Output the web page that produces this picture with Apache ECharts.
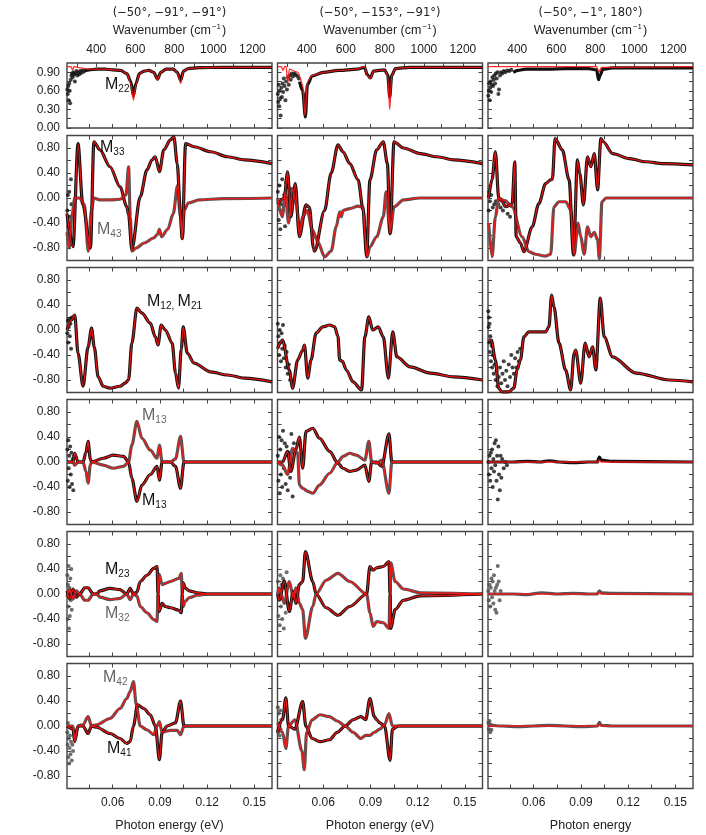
<!DOCTYPE html>
<html>
<head>
<meta charset="utf-8">
<script src="https://cdn.jsdelivr.net/npm/echarts@6/dist/echarts.min.js"></script>
<style>
html, body { margin: 0; padding: 0; background: #fff; }
#main { width: 706px; height: 835px; }
</style>
</head>
<body>
<div id="main"></div>
<script>
// x in photon energy (eV); top axis shows wavenumber (cm-1)
const X_MIN = 0.031
const X_MAX = 0.1612
const CM_PER_EV = 8065.54

const titles = ['(\u221250\u00b0, \u221291\u00b0, \u221291\u00b0)', '(\u221250\u00b0, \u2212153\u00b0, \u221291\u00b0)', '(\u221250\u00b0, \u22121\u00b0, 180\u00b0)']
const bottomNames = ['Photon energy (eV)', 'Photon energy (eV)', 'Photon energy']
const eVTicks = [0.045, 0.06, 0.075, 0.09, 0.105, 0.12, 0.135, 0.15]
const eVLabels = [0.06, 0.09, 0.12, 0.15]
const cmTicks = [300, 400, 500, 600, 700, 800, 900, 1000, 1100, 1200]
const cmLabels = [400, 600, 800, 1000, 1200]
const m22Ticks = [0, 0.15, 0.3, 0.45, 0.6, 0.75, 0.9]
const m22Labels = [0, 0.3, 0.6, 0.9]
const mTicks = [-0.8, -0.6, -0.4, -0.2, 0, 0.2, 0.4, 0.6, 0.8]
const mLabels = [-0.8, -0.4, 0, 0.4, 0.8]

// ---- row 1 : M22 ----
const r1c1Noise = [[0.0312,0.62],[0.0315,0.55],[0.0318,0.68],[0.0321,0.45],[0.0324,0.72],[0.0327,0.6],[0.0330,0.4],[0.0334,0.78],[0.0338,0.85],[0.0342,0.88],[0.0346,0.82],[0.0350,0.9],[0.0355,0.86],[0.0360,0.75],[0.0365,0.88],[0.0370,0.92],[0.0376,0.85],[0.0382,0.9],[0.0388,0.87],[0.0394,0.92],[0.0400,0.89],[0.0408,0.93],[0.0416,0.91]]
const r1c1Data = [[0.0420,0.92],[0.045,0.94],[0.05,0.95],[0.055,0.95],[0.060,0.94],[0.065,0.93],[0.069,0.88],[0.0715,0.75],[0.0732,0.52],[0.0748,0.72],[0.0770,0.88],[0.080,0.92],[0.083,0.93],[0.0860,0.9],[0.0885,0.79],[0.0905,0.9],[0.0940,0.95],[0.0985,0.95],[0.1010,0.9],[0.1032,0.77],[0.1050,0.92],[0.108,0.96],[0.115,0.975],[0.13,0.98],[0.1612,0.98]]
const r1c1Fit = [[0.031,0.99],[0.0335,0.99],[0.0345,0.94],[0.0355,0.99],[0.040,0.97],[0.045,0.95],[0.05,0.95],[0.055,0.95],[0.060,0.94],[0.065,0.93],[0.069,0.88],[0.0715,0.72],[0.0732,0.45],[0.0748,0.7],[0.0770,0.87],[0.080,0.92],[0.083,0.93],[0.0860,0.9],[0.0885,0.78],[0.0905,0.9],[0.0940,0.95],[0.0985,0.95],[0.1010,0.9],[0.1032,0.72],[0.1050,0.92],[0.108,0.96],[0.115,0.975],[0.13,0.98],[0.1612,0.98]]
const r1c2Noise = [[0.0312,0.55],[0.0315,0.42],[0.0318,0.7],[0.0321,0.35],[0.0324,0.6],[0.0327,0.48],[0.0330,0.2],[0.0334,0.65],[0.0338,0.5],[0.0342,0.72],[0.0346,0.58],[0.0350,0.8],[0.0355,0.68],[0.0360,0.45],[0.0365,0.75],[0.0370,0.62],[0.0376,0.82],[0.0382,0.7],[0.0388,0.85],[0.0394,0.78],[0.0400,0.88],[0.0408,0.83],[0.0416,0.88],[0.0425,0.86],[0.0435,0.84],[0.0445,0.8]]
const r1c2Data = [[0.045,0.75],[0.0470,0.6],[0.0487,0.18],[0.0500,0.7],[0.0530,0.84],[0.060,0.9],[0.070,0.93],[0.0815,0.95],[0.0863,0.98],[0.0880,0.86],[0.0900,0.81],[0.0920,0.92],[0.0990,0.94],[0.1010,0.86],[0.1023,0.5],[0.1035,0.85],[0.106,0.96],[0.115,0.98],[0.1612,0.98]]
const r1c2Fit = [[0.031,0.99],[0.0335,0.99],[0.0345,0.93],[0.0355,0.99],[0.0365,0.99],[0.0375,0.72],[0.0385,0.95],[0.0440,0.9],[0.0470,0.7],[0.0485,0.2],[0.0500,0.75],[0.0530,0.85],[0.060,0.9],[0.070,0.93],[0.0815,0.95],[0.0863,0.99],[0.0880,0.85],[0.0900,0.80],[0.0920,0.92],[0.0990,0.94],[0.1010,0.85],[0.1023,0.3],[0.1035,0.85],[0.106,0.96],[0.115,0.98],[0.1612,0.98]]
const r1c3Noise = [[0.0312,0.52],[0.0315,0.6],[0.0318,0.72],[0.0321,0.45],[0.0324,0.65],[0.0327,0.75],[0.0330,0.58],[0.0334,0.7],[0.0338,0.82],[0.0342,0.68],[0.0346,0.78],[0.0350,0.85],[0.0355,0.72],[0.0360,0.88],[0.0365,0.8],[0.0370,0.9],[0.0376,0.55],[0.0380,0.62],[0.0386,0.85],[0.0392,0.9],[0.0400,0.88],[0.0410,0.92],[0.0420,0.9],[0.0432,0.93],[0.0445,0.92],[0.0458,0.94]]
const r1c3Data = [[0.047,0.9],[0.050,0.93],[0.055,0.95],[0.060,0.95],[0.070,0.95],[0.080,0.96],[0.095,0.96],[0.100,0.94],[0.1012,0.78],[0.1022,0.85],[0.104,0.95],[0.11,0.97],[0.1612,0.97]]
const r1c3Fit = [[0.031,0.99],[0.100,0.99],[0.1015,0.9],[0.103,0.98],[0.1612,0.99]]

// ---- row 2 : M33 (black) / M43 (gray) ----
const r2c1Black = [[0.0310,-0.25],[0.0348,-0.78],[0.0380,0.87],[0.0410,-0.1],[0.0459,-0.8],[0.0481,0.9],[0.0519,0.77],[0.0583,0.5],[0.0647,0.18],[0.0690,-0.14],[0.0701,-0.27],[0.0722,-0.82],[0.0775,0.02],[0.0818,0.45],[0.0850,0.61],[0.0871,0.66],[0.0897,0.42],[0.0925,0.77],[0.0967,0.93],[0.0989,0.98],[0.1010,0.55],[0.1030,-0.2],[0.1042,-0.65],[0.1063,0.87],[0.1117,0.82],[0.1223,0.74],[0.1330,0.66],[0.1437,0.61],[0.1612,0.55]]
const r2c1Gray = [[0.0310,-0.55],[0.0325,-0.8],[0.0340,-0.3],[0.0360,0.0],[0.0390,0.0],[0.0420,-0.1],[0.0445,-0.85],[0.0465,-0.2],[0.0480,0.0],[0.0519,-0.03],[0.0583,-0.03],[0.0647,-0.02],[0.0685,0.05],[0.0701,0.5],[0.0712,-0.3],[0.0722,-0.85],[0.0750,-0.8],[0.0800,-0.72],[0.0860,-0.64],[0.0885,-0.58],[0.0897,-0.5],[0.0910,-0.62],[0.0950,-0.5],[0.0985,-0.25],[0.1012,0.2],[0.1030,-0.3],[0.1042,-0.65],[0.1055,-0.2],[0.1080,-0.08],[0.1150,-0.03],[0.1300,-0.01],[0.1612,0.0]]
const r2c1Noise = [[0.0312,-0.2],[0.0316,0.05],[0.0320,-0.45],[0.0324,0.1],[0.0330,-0.3],[0.0335,0.3],[0.0338,-0.1]]
const r2c2Black = [[0.0310,-0.1],[0.0353,0.0],[0.0374,0.42],[0.0395,-0.3],[0.0423,0.23],[0.0449,-0.62],[0.0491,-0.11],[0.0513,-0.15],[0.0538,-0.8],[0.0545,-0.85],[0.0609,-0.2],[0.0651,0.4],[0.0694,0.85],[0.0726,0.74],[0.0769,0.55],[0.0822,0.29],[0.0854,-0.19],[0.0876,-0.94],[0.0897,0.29],[0.0940,0.77],[0.0982,0.9],[0.1008,0.55],[0.1025,-0.57],[0.1050,0.9],[0.1110,0.8],[0.1217,0.71],[0.1324,0.66],[0.1430,0.61],[0.1612,0.55]]
const r2c2Gray = [[0.0310,0.0],[0.0340,-0.3],[0.0360,0.1],[0.0380,-0.4],[0.0405,0.15],[0.0430,-0.1],[0.0449,-0.55],[0.0470,-0.3],[0.0500,-0.2],[0.0530,-0.5],[0.0566,-0.7],[0.0609,-0.94],[0.0651,-0.85],[0.0683,-0.46],[0.0705,-0.22],[0.0715,-0.3],[0.0726,-0.2],[0.0769,-0.17],[0.0822,-0.13],[0.0854,-0.15],[0.0865,-0.57],[0.0880,-0.94],[0.0897,-0.78],[0.0940,-0.62],[0.0982,-0.3],[0.1000,0.1],[0.1025,-0.57],[0.1050,-0.14],[0.1110,-0.03],[0.1217,0.0],[0.1612,0.0]]
const r2c2Noise = [[0.0312,0.1],[0.0318,-0.35],[0.0322,0.2],[0.0328,-0.5],[0.0334,-0.1],[0.0340,0.3],[0.0346,-0.2],[0.0352,0.05],[0.0358,-0.45],[0.0364,0.25],[0.0370,0.0],[0.0380,-0.3],[0.0390,0.15]]
const r2c3Black = [[0.0314,0.0],[0.0336,0.3],[0.0357,0.74],[0.0378,0.0],[0.0399,-0.05],[0.0421,-0.14],[0.0463,-0.1],[0.0480,0.58],[0.0489,-0.62],[0.0516,-0.72],[0.0538,-0.86],[0.0591,-0.46],[0.0633,-0.09],[0.0676,0.23],[0.0708,0.29],[0.0719,0.3],[0.0736,0.95],[0.0782,0.77],[0.0825,0.29],[0.0853,-0.91],[0.0878,0.61],[0.0893,0.39],[0.0916,-0.11],[0.0942,0.66],[0.0963,0.5],[0.0985,0.71],[0.1006,0.13],[0.1027,0.95],[0.1042,0.9],[0.1102,0.71],[0.1208,0.63],[0.1314,0.58],[0.1421,0.55],[0.1612,0.53]]
const r2c3Gray = [[0.0314,-0.4],[0.0336,-0.94],[0.0357,-0.3],[0.0378,0.0],[0.0421,-0.05],[0.0463,-0.14],[0.0527,-0.62],[0.0570,-0.86],[0.0612,-0.9],[0.0676,-0.93],[0.0708,-0.9],[0.0729,-0.14],[0.0761,-0.06],[0.0804,-0.06],[0.0836,-0.19],[0.0857,-0.91],[0.0882,-0.4],[0.0899,-0.62],[0.0921,-0.9],[0.0942,-0.46],[0.0963,-0.62],[0.0985,-0.55],[0.1006,-0.67],[0.1017,-0.97],[0.1034,-0.06],[0.1059,0.0],[0.1612,0.0]]
const r2c3Noise = [[0.0314,-0.2],[0.0318,0.1],[0.0322,-0.05],[0.0330,0.05],[0.0340,-0.15],[0.0350,-0.1],[0.0360,-0.05],[0.0375,-0.1],[0.0390,-0.15],[0.0405,-0.2],[0.0420,-0.05],[0.0435,-0.25],[0.0450,-0.3]]

// ---- row 3 : M12, M21 ----
const r3c1Black = [[0.0310,0.0],[0.0338,0.16],[0.0359,0.24],[0.0380,-0.37],[0.0412,-0.9],[0.0444,-0.27],[0.0466,0.03],[0.0483,-0.27],[0.0508,-0.75],[0.0540,-0.9],[0.0583,-0.93],[0.0647,-0.9],[0.0679,-0.85],[0.0701,-0.8],[0.0722,-0.21],[0.0754,0.35],[0.0786,0.27],[0.0839,0.11],[0.0871,-0.11],[0.0888,-0.24],[0.0908,0.08],[0.0935,0.0],[0.0978,-0.21],[0.0999,-0.69],[0.1018,-0.93],[0.1036,-0.3],[0.1048,0.05],[0.1074,-0.37],[0.1117,-0.53],[0.1223,-0.67],[0.1330,-0.72],[0.1437,-0.77],[0.1612,-0.83]]
const r3c1Noise = [[0.0312,-0.05],[0.0315,0.15],[0.0318,-0.2],[0.0321,0.05],[0.0324,0.18],[0.0328,-0.1],[0.0332,0.1],[0.0336,-0.3],[0.0340,0.2]]
const r3c2Black = [[0.0310,-0.3],[0.0342,-0.16],[0.0385,-0.64],[0.0406,-0.93],[0.0438,-0.48],[0.0470,-0.32],[0.0481,-0.24],[0.0502,-0.77],[0.0523,-0.48],[0.0555,-0.05],[0.0598,0.05],[0.0641,0.08],[0.0673,0.05],[0.0694,-0.1],[0.0705,-0.48],[0.0722,-0.5],[0.0747,-0.64],[0.0790,-0.83],[0.0844,-0.96],[0.0865,-0.11],[0.0890,0.21],[0.0914,0.0],[0.0950,0.05],[0.0982,-0.11],[0.1014,-0.77],[0.1042,-0.03],[0.1068,-0.43],[0.1153,-0.59],[0.1281,-0.69],[0.1430,-0.75],[0.1612,-0.8]]
const r3c2Noise = [[0.0312,0.1],[0.0316,-0.1],[0.0320,-0.4],[0.0324,0.0],[0.0328,-0.2],[0.0332,-0.5],[0.0336,-0.05],[0.0340,-0.3],[0.0345,0.08],[0.0350,-0.45],[0.0356,-0.25],[0.0362,-0.6],[0.0368,-0.35],[0.0375,-0.7],[0.0382,-0.55],[0.0390,-0.8]]
const r3c3Black = [[0.0314,-0.16],[0.0331,-0.16],[0.0357,-0.48],[0.0378,-0.93],[0.0399,-0.99],[0.0442,-0.99],[0.0474,-0.93],[0.0495,-0.64],[0.0516,-0.48],[0.0538,-0.11],[0.0569,-0.03],[0.0612,-0.03],[0.0676,-0.03],[0.0697,0.05],[0.0714,0.56],[0.0729,0.37],[0.0761,-0.21],[0.0803,-0.64],[0.0835,-0.96],[0.0857,-0.37],[0.0867,-0.32],[0.0899,-0.85],[0.0927,-0.21],[0.0952,-0.43],[0.0974,-0.27],[0.0995,-0.64],[0.1023,0.51],[0.1048,-0.11],[0.1101,-0.43],[0.1250,-0.69],[0.1463,-0.8],[0.1612,-0.83]]
const r3c3Noise = [[0.0312,0.3],[0.0314,0.05],[0.0316,0.2],[0.0318,-0.2],[0.0320,0.1],[0.0322,-0.35],[0.0325,-0.1],[0.0329,-0.5],[0.0333,-0.25],[0.0337,-0.6],[0.0341,-0.4],[0.0346,-0.7],[0.0352,-0.55],[0.0358,-0.8],[0.0364,-0.65],[0.0370,-0.9],[0.0378,-0.75],[0.0386,-0.6],[0.0394,-0.85],[0.0402,-0.7],[0.0410,-0.5],[0.0418,-0.8],[0.0426,-0.65],[0.0434,-0.9],[0.0442,-0.55],[0.0450,-0.75],[0.0458,-0.4],[0.0466,-0.6],[0.0474,-0.7],[0.0482,-0.45],[0.0490,-0.6],[0.0498,-0.35],[0.0506,-0.5],[0.0514,-0.3]]

// ---- row 4 : M13 ----
const r4c1Black = [[0.0310,0.0],[0.0348,0.0],[0.0359,0.14],[0.0380,0.0],[0.0412,0.0],[0.0430,0.15],[0.0444,0.33],[0.0458,0.05],[0.0466,0.0],[0.0540,0.06],[0.0604,0.11],[0.0669,0.09],[0.0701,0.0],[0.0722,-0.26],[0.0754,-0.63],[0.0786,-0.37],[0.0839,-0.2],[0.0882,-0.07],[0.0897,-0.29],[0.0914,0.0],[0.0967,0.0],[0.0999,-0.07],[0.1031,-0.42],[0.1053,0.0],[0.1612,0.0]]
const r4c1Gray = [[0.0310,0.0],[0.0348,0.0],[0.0359,-0.05],[0.0380,0.0],[0.0412,0.0],[0.0430,-0.15],[0.0444,-0.34],[0.0458,-0.05],[0.0466,0.0],[0.0540,-0.05],[0.0604,-0.1],[0.0669,-0.07],[0.0701,0.0],[0.0722,0.27],[0.0754,0.65],[0.0786,0.38],[0.0839,0.19],[0.0882,0.06],[0.0897,0.27],[0.0914,0.0],[0.0967,0.0],[0.0999,0.05],[0.1031,0.41],[0.1053,0.0],[0.1612,0.0]]
const r4c1Noise = [[0.0312,0.2],[0.0315,-0.3],[0.0318,0.35],[0.0321,-0.1],[0.0324,0.1],[0.0327,-0.4],[0.0330,0.25],[0.0334,-0.2],[0.0338,0.15],[0.0342,-0.35],[0.0346,0.05],[0.0350,-0.45],[0.0355,0.1]]
const r4c2Black = [[0.0310,0.0],[0.0342,0.0],[0.0374,0.17],[0.0395,-0.15],[0.0427,0.2],[0.0449,0.4],[0.0470,-0.1],[0.0491,0.49],[0.0534,0.54],[0.0577,0.38],[0.0641,0.17],[0.0694,-0.02],[0.0726,-0.1],[0.0769,-0.15],[0.0811,-0.13],[0.0865,-0.05],[0.0890,-0.31],[0.0908,0.0],[0.0940,0.0],[0.0972,-0.07],[0.1018,0.45],[0.1036,0.0],[0.1068,0.0],[0.1612,0.0]]
const r4c2Gray = [[0.0310,0.0],[0.0342,-0.05],[0.0374,-0.2],[0.0406,0.22],[0.0438,0.15],[0.0449,-0.37],[0.0470,-0.42],[0.0502,-0.47],[0.0534,-0.5],[0.0577,-0.37],[0.0641,-0.18],[0.0694,0.0],[0.0726,0.09],[0.0769,0.14],[0.0811,0.11],[0.0865,0.03],[0.0890,0.33],[0.0908,0.0],[0.0940,-0.02],[0.0972,0.03],[0.1018,-0.5],[0.1036,0.0],[0.1068,0.0],[0.1612,0.0]]
const r4c2Noise = [[0.0312,0.1],[0.0316,-0.3],[0.0320,0.4],[0.0324,-0.5],[0.0328,0.2],[0.0332,-0.2],[0.0336,0.35],[0.0340,-0.4],[0.0345,0.5],[0.0350,-0.1],[0.0356,0.3],[0.0362,-0.35],[0.0368,0.25],[0.0375,-0.45],[0.0382,0.15],[0.0390,-0.25],[0.0398,0.45],[0.0406,-0.55],[0.0414,0.3]]
const r4c3Black = [[0.0310,0.0],[0.0470,0.0],[0.0560,0.01],[0.0640,0.0],[0.0700,0.02],[0.0760,0.0],[0.0850,-0.01],[0.0950,0.0],[0.1005,0.0],[0.1017,0.08],[0.1030,0.03],[0.1100,0.01],[0.1612,0.0]]
const r4c3Noise = [[0.0312,0.0],[0.0316,-0.2],[0.0320,0.1],[0.0324,-0.3],[0.0328,0.15],[0.0332,-0.1],[0.0336,0.2],[0.0340,-0.4],[0.0344,0.05],[0.0348,-0.15],[0.0352,0.3],[0.0356,-0.05],[0.0360,0.35],[0.0364,-0.3],[0.0368,0.1],[0.0372,-0.6],[0.0376,0.25],[0.0380,-0.2],[0.0385,-0.45],[0.0390,0.1],[0.0395,-0.25],[0.0400,0.05],[0.0410,-0.1],[0.0420,0.0],[0.0430,-0.05]]

// ---- row 5 : M23 (black) / M32 (gray) ----
const r5c1Black = [[0.0310,0.05],[0.0327,-0.08],[0.0348,0.08],[0.0370,-0.05],[0.0391,0.0],[0.0423,0.1],[0.0444,0.1],[0.0476,0.0],[0.0498,0.0],[0.0519,0.05],[0.0583,0.09],[0.0647,0.07],[0.0690,0.0],[0.0711,0.09],[0.0732,0.0],[0.0754,0.03],[0.0775,0.2],[0.0818,0.3],[0.0861,0.41],[0.0882,0.44],[0.0888,0.0],[0.0895,-0.28],[0.0914,-0.15],[0.0935,-0.2],[0.0967,-0.22],[0.1021,-0.26],[0.1036,-0.3],[0.1042,0.0],[0.1048,0.18],[0.1060,0.1],[0.1085,0.05],[0.1138,0.02],[0.1202,0.0],[0.1612,0.0]]
const r5c1Gray = [[0.0310,-0.05],[0.0327,0.08],[0.0348,-0.08],[0.0370,0.05],[0.0391,0.0],[0.0423,-0.1],[0.0444,-0.1],[0.0476,0.0],[0.0498,0.0],[0.0519,-0.05],[0.0583,-0.09],[0.0647,-0.07],[0.0690,0.0],[0.0711,-0.09],[0.0732,0.0],[0.0754,-0.03],[0.0775,-0.2],[0.0818,-0.3],[0.0861,-0.41],[0.0882,-0.44],[0.0888,0.0],[0.0895,0.32],[0.0914,0.15],[0.0935,0.17],[0.0967,0.2],[0.1021,0.25],[0.1036,0.33],[0.1042,0.0],[0.1048,-0.2],[0.1060,-0.12],[0.1085,-0.06],[0.1138,-0.02],[0.1202,0.0],[0.1612,0.0]]
const r5c1Noise = [[0.0312,0.3],[0.0314,-0.4],[0.0316,0.15],[0.0318,-0.2],[0.0320,0.45],[0.0322,-0.55],[0.0325,0.1],[0.0328,-0.35],[0.0331,0.25],[0.0334,-0.1],[0.0337,0.4],[0.0340,-0.25],[0.0344,0.05]]
const r5c2Black = [[0.0310,0.0],[0.0321,-0.1],[0.0353,0.21],[0.0385,-0.28],[0.0410,0.04],[0.0427,-0.15],[0.0449,0.15],[0.0470,0.2],[0.0487,0.68],[0.0534,0.2],[0.0555,0.0],[0.0619,-0.22],[0.0694,-0.34],[0.0769,-0.2],[0.0876,0.0],[0.0897,0.44],[0.0918,0.38],[0.0940,0.42],[0.0982,0.44],[0.1018,0.52],[0.1025,0.0],[0.1029,-0.55],[0.1057,-0.25],[0.1110,-0.1],[0.1217,-0.03],[0.1612,0.0]]
const r5c2Gray = [[0.0310,0.0],[0.0321,0.1],[0.0353,-0.15],[0.0385,0.2],[0.0410,-0.05],[0.0427,0.1],[0.0449,-0.15],[0.0470,-0.25],[0.0487,-0.71],[0.0534,-0.2],[0.0555,0.0],[0.0619,0.22],[0.0694,0.33],[0.0769,0.2],[0.0876,0.0],[0.0897,-0.3],[0.0918,-0.52],[0.0940,-0.44],[0.0982,-0.46],[0.1018,-0.55],[0.1025,0.0],[0.1029,0.5],[0.1057,0.2],[0.1110,0.08],[0.1217,0.02],[0.1612,0.0]]
const r5c2Noise = [[0.0312,0.2],[0.0316,-0.35],[0.0320,0.05],[0.0324,-0.5],[0.0328,0.3],[0.0332,-0.2],[0.0336,0.15],[0.0340,-0.4],[0.0345,0.25],[0.0350,-0.55],[0.0356,0.1],[0.0362,-0.3],[0.0368,0.35],[0.0375,-0.15]]
const r5c3Gray = [[0.0310,0.0],[0.0470,0.0],[0.0560,-0.01],[0.0650,0.02],[0.0750,0.0],[0.0850,0.01],[0.0950,0.0],[0.1005,0.0],[0.1017,0.05],[0.1030,0.02],[0.1100,0.01],[0.1612,0.0]]
const r5c3Noise = [[0.0312,0.05],[0.0316,-0.1],[0.0320,0.15],[0.0324,-0.2],[0.0328,0.1],[0.0332,0.25],[0.0336,-0.05],[0.0340,0.2],[0.0344,-0.15],[0.0348,0.3],[0.0352,0.05],[0.0356,-0.25],[0.0360,0.1],[0.0364,-0.3],[0.0368,0.15],[0.0372,0.45],[0.0378,0.2],[0.0384,-0.1],[0.0390,0.05]]

// ---- row 6 : M41 (black) / M42 (gray) ----
const r6c1Black = [[0.0310,0.0],[0.0348,-0.05],[0.0359,-0.25],[0.0380,0.0],[0.0412,0.0],[0.0444,-0.12],[0.0466,0.0],[0.0498,-0.02],[0.0583,-0.12],[0.0647,-0.2],[0.0690,-0.28],[0.0711,-0.25],[0.0732,0.0],[0.0758,0.34],[0.0797,0.28],[0.0839,0.18],[0.0871,0.0],[0.0897,-0.54],[0.0914,-0.1],[0.0946,0.0],[0.0999,0.05],[0.1031,0.4],[0.1053,0.0],[0.1117,0.0],[0.1612,0.0]]
const r6c1Gray = [[0.0310,0.0],[0.0348,0.0],[0.0359,-0.2],[0.0380,0.0],[0.0412,0.02],[0.0444,0.15],[0.0466,0.0],[0.0498,0.02],[0.0583,0.12],[0.0647,0.28],[0.0690,0.44],[0.0711,0.55],[0.0732,0.71],[0.0750,0.34],[0.0775,0.0],[0.0818,-0.06],[0.0861,-0.14],[0.0882,0.0],[0.0897,0.07],[0.0914,-0.1],[0.0967,-0.07],[0.1010,-0.07],[0.1031,-0.14],[0.1053,0.0],[0.1612,0.0]]
const r6c1Noise = [[0.0312,-0.1],[0.0314,-0.3],[0.0316,0.05],[0.0318,-0.5],[0.0320,-0.2],[0.0323,-0.6],[0.0326,-0.35],[0.0329,-0.15],[0.0332,-0.45],[0.0336,-0.25],[0.0340,-0.55],[0.0344,-0.3],[0.0348,-0.4]]
const r6c2Black = [[0.0310,-0.1],[0.0342,0.1],[0.0363,0.45],[0.0380,0.0],[0.0420,-0.05],[0.0470,0.39],[0.0490,0.0],[0.0530,-0.2],[0.0580,-0.25],[0.0640,-0.22],[0.0690,-0.1],[0.0740,0.0],[0.0790,0.1],[0.0840,0.15],[0.0870,0.1],[0.0897,0.44],[0.0925,0.15],[0.0940,0.1],[0.0960,0.05],[0.0990,0.0],[0.1025,-0.55],[0.1040,-0.05],[0.1080,0.0],[0.1612,0.0]]
const r6c2Gray = [[0.0310,0.05],[0.0342,-0.1],[0.0363,-0.36],[0.0380,0.0],[0.0420,0.1],[0.0465,-0.4],[0.0480,-0.7],[0.0495,-0.1],[0.0530,0.1],[0.0580,0.18],[0.0640,0.15],[0.0690,0.08],[0.0740,0.0],[0.0790,-0.1],[0.0840,-0.2],[0.0870,-0.15],[0.0897,-0.15],[0.0925,-0.1],[0.0960,-0.05],[0.0990,0.02],[0.1018,0.2],[0.1040,0.0],[0.1080,0.0],[0.1612,0.0]]
const r6c2Noise = [[0.0312,0.3],[0.0315,-0.1],[0.0318,0.2],[0.0321,0.05],[0.0324,-0.15],[0.0327,0.25],[0.0330,-0.05],[0.0334,0.1]]
const r6c3Gray = [[0.0310,0.02],[0.0400,0.0],[0.0500,-0.01],[0.0600,0.0],[0.0700,0.01],[0.0800,0.0],[0.0900,-0.01],[0.1005,0.0],[0.1017,0.06],[0.1030,0.01],[0.1100,0.0],[0.1612,0.0]]
const r6c3Noise = [[0.0312,0.05],[0.0316,-0.05],[0.0320,0.08],[0.0324,-0.1],[0.0328,0.02],[0.0332,-0.06]]
const flatFit = [[0.031,0.0],[0.1005,0.0],[0.1017,0.03],[0.103,0.0],[0.1612,0.0]]

const panels = [
    { r: 0, c: 0, black: r1c1Data, fit: [r1c1Fit], noise: r1c1Noise },
    { r: 0, c: 1, black: r1c2Data, fit: [r1c2Fit], noise: r1c2Noise },
    { r: 0, c: 2, black: r1c3Data, fit: [r1c3Fit], noise: r1c3Noise },
    { r: 1, c: 0, black: r2c1Black, gray: r2c1Gray, noise: r2c1Noise },
    { r: 1, c: 1, black: r2c2Black, gray: r2c2Gray, noise: r2c2Noise },
    { r: 1, c: 2, black: r2c3Black, gray: r2c3Gray, noise: r2c3Noise },
    { r: 2, c: 0, black: r3c1Black, noise: r3c1Noise },
    { r: 2, c: 1, black: r3c2Black, noise: r3c2Noise },
    { r: 2, c: 2, black: r3c3Black, noise: r3c3Noise },
    { r: 3, c: 0, black: r4c1Black, gray: r4c1Gray, noise: r4c1Noise },
    { r: 3, c: 1, black: r4c2Black, gray: r4c2Gray, noise: r4c2Noise },
    { r: 3, c: 2, black: r4c3Black, fit: [flatFit], noise: r4c3Noise },
    { r: 4, c: 0, black: r5c1Black, gray: r5c1Gray, noise: r5c1Noise, noiseGray: true },
    { r: 4, c: 1, black: r5c2Black, gray: r5c2Gray, noise: r5c2Noise, noiseGray: true },
    { r: 4, c: 2, gray: r5c3Gray, fit: [flatFit], noise: r5c3Noise, noiseGray: true },
    { r: 5, c: 0, black: r6c1Black, gray: r6c1Gray, noise: r6c1Noise, noiseGray: true },
    { r: 5, c: 1, black: r6c2Black, gray: r6c2Gray, noise: r6c2Noise, noiseGray: true },
    { r: 5, c: 2, gray: r6c3Gray, fit: [flatFit], noise: r6c3Noise, noiseGray: true },
]

const colLeft = [67, 277.5, 488]
const colWidth = 205
const rowTop = [63, 135.5, 267.5, 399.5, 531.5, 663.5]
const rowHeight = [65, 125, 125, 125, 125, 125]

const FONT = 'Liberation Sans'
const frameColor = '#444'
const tick = (vals) => ({ show: true, inside: true, length: 4, customValues: vals, lineStyle: { color: frameColor, width: 1 } })
const noLine = { show: false, onZero: false }
// soften the corners between read-off points, without overshooting along x
const curve = { symbol: 'none', smooth: 0.3, smoothMonotone: 'x' }

var chartDom = document.getElementById('main')
var myChart = echarts.init(chartDom)

var grid = [], xAxis = [], yAxis = [], series = []

panels.forEach(function (p, i) {
    grid.push({
        left: colLeft[p.c], top: rowTop[p.r], width: colWidth, height: rowHeight[p.r],
        show: true, borderColor: frameColor, borderWidth: 1.4, backgroundColor: 'transparent',
    })
    let lastRow = p.r === 5
    let firstRow = p.r === 0
    // bottom axis (photon energy)
    xAxis.push({
        type: 'value', gridIndex: i, min: X_MIN, max: X_MAX, position: 'bottom',
        axisLine: noLine, splitLine: { show: false },
        axisTick: tick(eVTicks),
        axisLabel: {
            show: lastRow, customValues: eVLabels, margin: 8,
            fontFamily: FONT, fontSize: 12, color: '#222',
            formatter: (v) => v.toFixed(2),
        },
        name: lastRow ? bottomNames[p.c] : '',
        nameLocation: 'middle', nameGap: 31,
        nameTextStyle: { fontFamily: FONT, fontSize: 12.5, color: '#222' },
    })
    // top axis (wavenumber labels on the first row)
    xAxis.push({
        type: 'value', gridIndex: i, min: X_MIN, max: X_MAX, position: 'top',
        axisLine: noLine, splitLine: { show: false },
        axisTick: tick(firstRow ? cmTicks.map((c) => c / CM_PER_EV) : eVTicks),
        axisLabel: {
            show: firstRow, customValues: cmLabels.map((c) => c / CM_PER_EV), margin: 7,
            fontFamily: FONT, fontSize: 12, color: '#222',
            formatter: (v) => String(Math.round(v * CM_PER_EV / 10) * 10),
        },
    })
    let yt = firstRow ? m22Ticks : mTicks
    let yl = firstRow ? m22Labels : mLabels
    let yMin = firstRow ? 0 : -1
    let yMax = firstRow ? 1.05 : 1
    yAxis.push({
        type: 'value', gridIndex: i, min: yMin, max: yMax, position: 'left',
        axisLine: noLine, splitLine: { show: false },
        axisTick: tick(yt),
        axisLabel: {
            show: p.c === 0, customValues: yl, margin: 7,
            fontFamily: FONT, fontSize: 12, color: '#222',
            formatter: (v) => v.toFixed(2),
        },
    })
    yAxis.push({
        type: 'value', gridIndex: i, min: yMin, max: yMax, position: 'right',
        axisLine: noLine, splitLine: { show: false },
        axisTick: tick(yt), axisLabel: { show: false },
    })

    let xi = 2 * i, yi = 2 * i
    if (p.noise) {
        series.push({
            type: 'scatter', xAxisIndex: xi, yAxisIndex: yi, data: p.noise,
            symbolSize: 4, itemStyle: { color: p.noiseGray ? '#4a4a4a' : '#111' }, z: 2,
        })
    }
    if (p.gray) {
        series.push(Object.assign({
            type: 'line', xAxisIndex: xi, yAxisIndex: yi, data: p.gray,
            lineStyle: { color: '#555', width: 3.2 }, z: 3,
        }, curve))
    }
    if (p.black) {
        series.push(Object.assign({
            type: 'line', xAxisIndex: xi, yAxisIndex: yi, data: p.black,
            lineStyle: { color: '#111', width: 3.2 }, z: 4,
        }, curve))
    }
    let fits = p.fit || [p.black, p.gray].filter(Boolean)
    fits.forEach(function (f) {
        series.push(Object.assign({
            type: 'line', xAxisIndex: xi, yAxisIndex: yi, data: f,
            lineStyle: { color: 'rgba(255,20,20,0.9)', width: 1.3 }, z: 5,
        }, curve))
    })
})

// column titles, wavenumber names and matrix element labels
var graphic = []
titles.forEach(function (t, c) {
    let cx = colLeft[c] + colWidth / 2
    graphic.push({
        type: 'text', x: cx, y: 13,
        style: { text: t, align: 'center', verticalAlign: 'middle', fontFamily: 'DejaVu Sans', fontSize: 11.5, fill: '#222' },
    })
    graphic.push({
        type: 'text', x: cx, y: 31,
        style: {
            text: '{a|Wavenumber (cm}{s|\u22121}{a|)}', align: 'center', verticalAlign: 'middle',
            rich: {
                a: { fontFamily: FONT, fontSize: 12.5, fill: '#222' },
                s: { fontFamily: FONT, fontSize: 8, fill: '#222', padding: [0, 1, 8, 1] },
            },
        },
    })
})
const mLabelRich = {
    m: { fontFamily: FONT, fontSize: 16 },
    s: { fontFamily: FONT, fontSize: 10, padding: [9, 0, 0, 0] },
}
const annotations = [
    ['{m|M}{s|22}', 105, 77, '#111'],
    ['{m|M}{s|33}', 100, 140, '#111'],
    ['{m|M}{s|43}', 97, 222, '#666'],
    ['{m|M}{s|12,} {m|M}{s|21}', 147, 294, '#111'],
    ['{m|M}{s|13}', 142, 408, '#666'],
    ['{m|M}{s|13}', 142, 493, '#111'],
    ['{m|M}{s|23}', 105, 562, '#111'],
    ['{m|M}{s|32}', 105, 606, '#666'],
    ['{m|M}{s|42}', 103, 670, '#666'],
    ['{m|M}{s|41}', 107, 741, '#111'],
]
annotations.forEach(function (a) {
    graphic.push({
        type: 'text', left: a[1], top: a[2], z: 10,
        style: { text: a[0], rich: mLabelRich, fill: a[3] },
    })
})

var option = {
    animation: false,
    backgroundColor: '#fff',
    grid: grid,
    xAxis: xAxis,
    yAxis: yAxis,
    series: series,
    graphic: graphic,
}
option && myChart.setOption(option)
</script>
</body>
</html>
